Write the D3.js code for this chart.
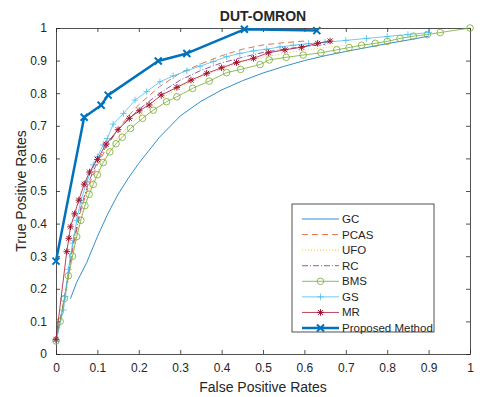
<!DOCTYPE html>
<html><head><meta charset="utf-8">
<script src="https://cdn.jsdelivr.net/npm/d3@7"></script>
<style>body{margin:0;background:#fff}svg{display:block}text{font-family:"Liberation Sans",Arial,sans-serif;fill:#262626}</style>
</head><body>
<svg id="chart" width="483" height="397"></svg>
<script>
const title = "DUT-OMRON";
const xLabel = "False Positive Rates";
const yLabel = "True Positive Rates";
const xTicks = [0,0.1,0.2,0.3,0.4,0.5,0.6,0.7,0.8,0.9,1];
const yTicks = [0,0.1,0.2,0.3,0.4,0.5,0.6,0.7,0.8,0.9,1];
const seriesNames = ["GC","PCAS","UFO","RC","BMS","GS","MR","Proposed Method"];

const gcFPR = [0.035,0.05,0.074,0.1,0.125,0.15,0.175,0.2,0.25,0.3,0.35,0.4,0.45,0.5,0.55,0.6,0.65,0.7,0.75,0.8,0.85,0.9];
const gcTPR = [0.17,0.22,0.28,0.36,0.43,0.49,0.54,0.585,0.665,0.73,0.775,0.81,0.838,0.862,0.882,0.9,0.915,0.928,0.94,0.952,0.963,0.975];

const pcasFPR = [0,0.02,0.04,0.06,0.08,0.1,0.125,0.15,0.175,0.2,0.25,0.3,0.35,0.4,0.45,0.5,0.55,0.6];
const pcasTPR = [0.04,0.16,0.32,0.44,0.52,0.58,0.64,0.69,0.73,0.765,0.82,0.862,0.89,0.915,0.935,0.948,0.955,0.96];

const ufoFPR = [0,0.02,0.04,0.06,0.08,0.1,0.125,0.15,0.2,0.25,0.3,0.35,0.4,0.45,0.5,0.55,0.6,0.65,0.7];
const ufoTPR = [0.04,0.15,0.3,0.42,0.5,0.56,0.62,0.665,0.73,0.78,0.82,0.85,0.875,0.895,0.91,0.922,0.932,0.94,0.947];

const rcFPR = [0,0.02,0.04,0.06,0.08,0.1,0.125,0.15,0.2,0.25,0.3,0.35,0.4,0.45,0.5,0.55,0.6,0.65];
const rcTPR = [0.04,0.17,0.33,0.45,0.53,0.59,0.645,0.69,0.75,0.8,0.84,0.87,0.893,0.91,0.925,0.935,0.943,0.95];

const bmsFPR = [0,0.01,0.02,0.03,0.04,0.05,0.06,0.07,0.08,0.09,0.1,0.114,0.13,0.145,0.16,0.18,0.209,0.235,0.267,0.292,0.33,0.37,0.412,0.446,0.493,0.515,0.556,0.597,0.64,0.678,0.708,0.738,0.771,0.8,0.831,0.863,0.897,0.928,1];
const bmsTPR = [0.04,0.1,0.17,0.24,0.3,0.36,0.41,0.455,0.49,0.52,0.55,0.587,0.62,0.645,0.665,0.692,0.723,0.748,0.774,0.789,0.815,0.837,0.863,0.873,0.888,0.902,0.91,0.917,0.924,0.933,0.94,0.947,0.953,0.959,0.968,0.975,0.98,0.986,1];

const gsFPR = [0,0.018,0.022,0.03,0.04,0.05,0.06,0.075,0.09,0.1,0.114,0.124,0.138,0.163,0.191,0.219,0.251,0.283,0.316,0.348,0.38,0.412,0.444,0.477,0.509,0.541,0.573,0.61,0.65,0.7,0.75,0.8,0.85,0.9];
const gsTPR = [0.04,0.135,0.176,0.26,0.34,0.41,0.47,0.53,0.58,0.605,0.641,0.661,0.705,0.738,0.779,0.805,0.835,0.853,0.869,0.883,0.897,0.912,0.922,0.93,0.935,0.942,0.947,0.952,0.956,0.962,0.968,0.974,0.98,0.986];

const mrFPR = [0,0.026,0.031,0.035,0.045,0.055,0.068,0.081,0.1,0.121,0.15,0.177,0.201,0.225,0.254,0.292,0.326,0.364,0.4,0.436,0.477,0.513,0.553,0.593,0.632,0.662];
const mrTPR = [0.045,0.314,0.355,0.39,0.43,0.472,0.521,0.558,0.597,0.644,0.688,0.723,0.746,0.764,0.794,0.818,0.84,0.861,0.878,0.894,0.907,0.924,0.933,0.941,0.953,0.96];

const propFPR = [0,0.068,0.109,0.126,0.247,0.316,0.455,0.63];
const propTPR = [0.285,0.726,0.763,0.794,0.899,0.922,0.996,0.992];

const svg = d3.select("#chart");
const L = 56, R = 470, T = 28, B = 354;
const x = d3.scaleLinear().domain([0,1]).range([L,R]);
const y = d3.scaleLinear().domain([0,1]).range([B,T]);
const axisColor = "#262626";

// axes with inward ticks on all four sides
const fmt = d => d3.format("")(+d.toFixed(1));
svg.append("g").attr("transform",`translate(0,${B})`)
  .call(d3.axisBottom(x).tickValues(xTicks).tickSizeInner(-4).tickSizeOuter(0).tickPadding(9).tickFormat(fmt));
svg.append("g").attr("transform",`translate(${L},0)`)
  .call(d3.axisLeft(y).tickValues(yTicks).tickSizeInner(-4).tickSizeOuter(0).tickPadding(9).tickFormat(fmt));
svg.append("g").attr("transform",`translate(0,${T})`)
  .call(d3.axisTop(x).tickValues(xTicks).tickSizeInner(-4).tickSizeOuter(0).tickFormat(""));
svg.append("g").attr("transform",`translate(${R},0)`)
  .call(d3.axisRight(y).tickValues(yTicks).tickSizeInner(-4).tickSizeOuter(0).tickFormat(""));
svg.selectAll(".domain").attr("stroke",axisColor).attr("stroke-width",0.8);
svg.selectAll(".tick line").attr("stroke",axisColor).attr("stroke-width",0.8);
svg.selectAll(".tick text").attr("font-size","12px").attr("fill",axisColor)
  .attr("font-family","'Liberation Sans',Arial,sans-serif");

// titles
svg.append("text").attr("x",263).attr("y",21).attr("text-anchor","middle")
  .attr("font-size","14px").attr("font-weight","bold").attr("fill","#000").text(title);
svg.append("text").attr("x",263).attr("y",392).attr("text-anchor","middle")
  .attr("font-size","14px").text(xLabel);
svg.append("text").attr("transform",`translate(26,${(T+B)/2}) rotate(-90)`).attr("text-anchor","middle")
  .attr("font-size","14px").text(yLabel);

const series = [
  {name:seriesNames[0], fx:gcFPR, ty:gcTPR, color:"#0072BD", w:0.8, dash:null, marker:null},
  {name:seriesNames[1], fx:pcasFPR, ty:pcasTPR, color:"#D95319", w:0.8, dash:"6,4", marker:null},
  {name:seriesNames[2], fx:ufoFPR, ty:ufoTPR, color:"#EDB120", w:0.8, dash:"1,2", marker:null},
  {name:seriesNames[3], fx:rcFPR, ty:rcTPR, color:"#7E2F8E", w:0.8, dash:"6,2,1,2", marker:null},
  {name:seriesNames[4], fx:bmsFPR, ty:bmsTPR, color:"#77AC30", w:0.8, dash:null, marker:"circle"},
  {name:seriesNames[5], fx:gsFPR, ty:gsTPR, color:"#4DBEEE", w:0.8, dash:null, marker:"plus"},
  {name:seriesNames[6], fx:mrFPR, ty:mrTPR, color:"#A2142F", w:0.8, dash:null, marker:"star"},
  {name:seriesNames[7], fx:propFPR, ty:propTPR, color:"#0072BD", w:2.5, dash:null, marker:"x"}
];

function drawMarker(g, type, cx, cy, color, big){
  const s = 3.3;
  if(type==="circle"){
    g.append("circle").attr("cx",cx).attr("cy",cy).attr("r",s).attr("fill","none").attr("stroke",color).attr("stroke-width",0.8);
  } else if(type==="plus"){
    g.append("path").attr("d",`M${cx-s},${cy}H${cx+s}M${cx},${cy-s}V${cy+s}`).attr("stroke",color).attr("stroke-width",0.8);
  } else if(type==="star"){
    const d = s*0.75;
    g.append("path").attr("d",`M${cx-s},${cy}H${cx+s}M${cx},${cy-s}V${cy+s}M${cx-d},${cy-d}L${cx+d},${cy+d}M${cx-d},${cy+d}L${cx+d},${cy-d}`)
      .attr("stroke",color).attr("stroke-width",1);
  } else if(type==="x"){
    const d = 3.5;
    g.append("path").attr("d",`M${cx-d},${cy-d}L${cx+d},${cy+d}M${cx-d},${cy+d}L${cx+d},${cy-d}`)
      .attr("stroke",color).attr("stroke-width",2);
  }
}

const line = d3.line().x(d=>x(d[0])).y(d=>y(d[1]));
const plot = svg.append("g");
series.forEach(s=>{
  const pts = s.fx.map((v,i)=>[v,s.ty[i]]);
  const g = plot.append("g");
  g.append("path").attr("d",line(pts)).attr("fill","none").attr("stroke",s.color)
    .attr("stroke-width",s.w).attr("stroke-dasharray",s.dash).attr("stroke-linejoin","round");
  if(s.marker) pts.forEach(p=>drawMarker(g,s.marker,x(p[0]),y(p[1]),s.color));
});

// legend
const lg = svg.append("g");
lg.append("rect").attr("x",292).attr("y",204).attr("width",142).attr("height",128)
  .attr("fill","#fff").attr("stroke",axisColor).attr("stroke-width",0.8);
const ly = d3.scalePoint().domain(seriesNames).range([219,328]);
series.forEach(s=>{
  const yy = ly(s.name);
  lg.append("line").attr("x1",302).attr("x2",339).attr("y1",yy).attr("y2",yy)
    .attr("stroke",s.color).attr("stroke-width",s.w).attr("stroke-dasharray",s.dash);
  if(s.marker) drawMarker(lg,s.marker,320.5,yy,s.color);
  lg.append("text").attr("x",342).attr("y",yy+4).attr("font-size","11.5px").attr("fill","#000").text(s.name);
});
</script>
</body></html>
